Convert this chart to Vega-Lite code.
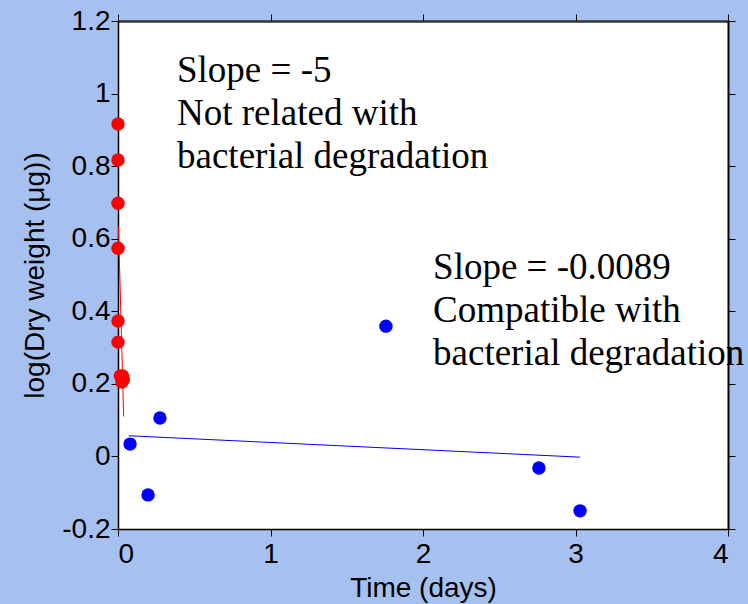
{
  "$schema": "https://vega.github.io/schema/vega-lite/v6.json",
  "width": 610,
  "height": 508,
  "autosize": "none",
  "padding": {"left": 118, "top": 21, "right": 20, "bottom": 75},
  "background": "#a6c1f0",
  "config": {
    "view": {"fill": "white", "stroke": null},
    "axis": {
      "grid": false,
      "domainColor": "#000000",
      "domainWidth": 1.5,
      "tickColor": "#000000",
      "tickSize": 7,
      "labelFont": "Liberation Sans",
      "labelFontSize": 28,
      "labelColor": "#000000",
      "titleFont": "Liberation Sans",
      "titleFontSize": 28,
      "titleFontWeight": "normal",
      "titleColor": "#000000"
    }
  },
  "datasets": {
    "points": [
      {"time": 0, "logw": 0.916, "group": "fast"},
      {"time": 0, "logw": 0.817, "group": "fast"},
      {"time": 0, "logw": 0.698, "group": "fast"},
      {"time": 0, "logw": 0.574, "group": "fast"},
      {"time": 0, "logw": 0.373, "group": "fast"},
      {"time": 0, "logw": 0.315, "group": "fast"},
      {"time": 0.015, "logw": 0.222, "group": "fast"},
      {"time": 0.03, "logw": 0.222, "group": "fast"},
      {"time": 0.025, "logw": 0.205, "group": "fast"},
      {"time": 0.035, "logw": 0.212, "group": "fast"},
      {"time": 0.079, "logw": 0.034, "group": "slow"},
      {"time": 0.197, "logw": -0.106, "group": "slow"},
      {"time": 0.275, "logw": 0.106, "group": "slow"},
      {"time": 1.757, "logw": 0.359, "group": "slow"},
      {"time": 2.76, "logw": -0.032, "group": "slow"},
      {"time": 3.03, "logw": -0.15, "group": "slow"}
    ],
    "fits": [
      {"time": 0.003, "logw": 0.635, "group": "fast"},
      {"time": 0.037, "logw": 0.11, "group": "fast"},
      {"time": 0.07, "logw": 0.057, "group": "slow"},
      {"time": 3.03, "logw": -0.002, "group": "slow"}
    ],
    "notes": [
      {"time": 0.387, "logw": 1.032, "label": "Slope = -5"},
      {"time": 0.387, "logw": 0.913, "label": "Not related with"},
      {"time": 0.387, "logw": 0.795, "label": "bacterial degradation"},
      {"time": 2.066, "logw": 0.49, "label": "Slope = -0.0089"},
      {"time": 2.066, "logw": 0.371, "label": "Compatible with"},
      {"time": 2.066, "logw": 0.252, "label": "bacterial degradation"}
    ]
  },
  "resolve": {"axis": {"x": "independent", "y": "independent"}},
  "layer": [
    {
      "data": {"name": "fits"},
      "mark": {"type": "line", "strokeWidth": 1},
      "encoding": {
        "x": {"field": "time", "type": "quantitative", "scale": {"domain": [0, 4], "nice": false, "zero": false},
              "axis": {"orient": "bottom", "values": [0, 1, 2, 3, 4], "title": "Time (days)", "labelPadding": 4, "titlePadding": 6}},
        "y": {"field": "logw", "type": "quantitative", "scale": {"domain": [-0.2, 1.2], "nice": false, "zero": false},
              "axis": {"orient": "left", "values": [-0.2, 0, 0.2, 0.4, 0.6, 0.8, 1, 1.2], "labelExpr": "'' + datum.value", "title": "log(Dry weight (μg))", "labelPadding": 1, "titlePadding": 12}},
        "color": {"field": "group", "type": "nominal", "scale": {"domain": ["fast", "slow"], "range": ["#ff0000", "#0000ff"]}, "legend": null},
        "detail": {"field": "group"}
      }
    },
    {
      "data": {"name": "points"},
      "mark": {"type": "point", "filled": true, "opacity": 1, "size": 180},
      "encoding": {
        "x": {"field": "time", "type": "quantitative", "axis": {"orient": "top", "values": [0, 1, 2, 3, 4], "labels": false, "title": null, "domainColor": "#333333", "domainWidth": 2.5}},
        "y": {"field": "logw", "type": "quantitative", "axis": {"orient": "right", "values": [-0.2, 0, 0.2, 0.4, 0.6, 0.8, 1, 1.2], "labels": false, "title": null, "domainWidth": 2}},
        "color": {"field": "group", "type": "nominal", "legend": null}
      }
    },
    {
      "data": {"name": "notes"},
      "mark": {"type": "text", "font": "Liberation Serif", "fontSize": 37, "align": "left", "baseline": "alphabetic", "color": "#000000"},
      "encoding": {
        "x": {"field": "time", "type": "quantitative", "axis": null},
        "y": {"field": "logw", "type": "quantitative", "axis": null},
        "text": {"field": "label"}
      }
    }
  ]
}
